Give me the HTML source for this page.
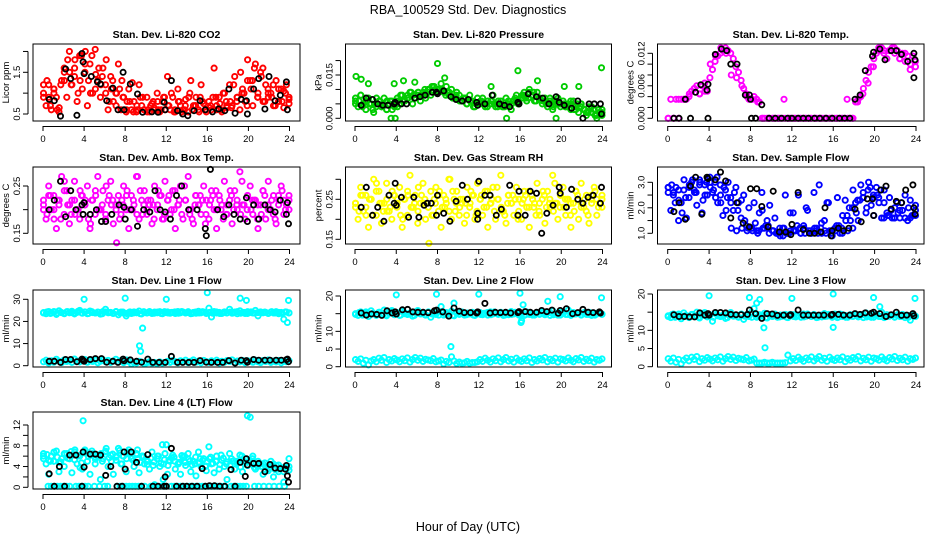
<!DOCTYPE html>
<html><head><meta charset="utf-8"><style>
body{margin:0;background:#fff;}
svg{display:block;font-family:"Liberation Sans",Arial,sans-serif;}
</style></head><body>
<svg id="c" width="936" height="540" viewBox="0 0 936 540" xmlns="http://www.w3.org/2000/svg">
<rect width="936" height="540" fill="#fff"/>
<text x="468" y="14" text-anchor="middle" font-size="12.5">RBA_100529  Std. Dev. Diagnostics</text>
<text x="468" y="531" text-anchor="middle" font-size="12.5">Hour of Day (UTC)</text>
</svg>
<script>
// ---------- data ----------
const xTicks=[0,4,8,12,16,20,24];
const co2Vals=[1.0,0.7,1.2,0.6,1.1,0.9,0.55,1.3,1.6,0.9,2.0,1.2,1.4,0.8,1.9,1.1,1.5,0.7,1.7,1.0,2.05,1.3,0.9,1.6,1.2,0.6,1.4,0.8,1.0,1.7,0.6,0.9,0.55,1.1,0.6,0.8,0.55,1.2,0.7,0.6,0.9,0.55,0.75,0.6,1.0,0.55,0.8,0.6,1.4,0.6,0.9,0.55,1.1,0.7,0.6,0.85,0.55,1.3,0.7,0.9,0.6,1.2,0.75,0.55,0.8,0.6,1.6,0.7,0.9,0.55,1.0,0.65,1.2,0.7,1.4,0.9,0.6,1.1,0.8,1.8,1.3,0.7,1.7,1.0,1.5,0.8,1.2,0.9,1.0,0.7,1.3,0.8,1.1,0.65,1.2,0.9];
const co2Vals2=[1.2,0.9,1.1,0.65,1.3,1.5,1.8,1.3,2.0,1.0,1.45,1.2,1.8,1.1,1.0,1.3,0.8,1.25,0.6,0.9,0.6,0.8,0.6,0.9,0.7,0.55,0.8,0.6,1.0,0.7,0.9,0.6,0.7,0.9,0.6,0.8,0.65,0.8,1.0,0.7,1.3,0.9,1.6,1.1,1.2,0.8,1.05,0.85];
const co2Vals3=[0.9,1.3,0.7,1.0,0.6,1.2,1.5,1.8,1.2,1.6,1.0,1.9,1.7,1.3,1.9,1.1,1.6,1.4,1.0,0.8,1.3,0.7,1.1,0.9,0.6,0.8,0.55,0.7,0.9,0.6,0.55,0.7,0.65,0.8,0.6,0.9,0.7,1.0,0.6,0.8,0.55,0.7,0.9,0.6,0.7,0.55,0.8,0.6,0.65,0.9,0.6,0.75,1.0,0.7,0.8,1.2,0.9,1.5,1.0,1.3,1.1,1.6,0.9,1.4,0.8,1.0,0.9,0.7,1.1,0.8,1.0,0.75];
const co2BlackT=[0.6,1.1,1.7,2.2,2.7,3.3,3.8,3.9,4.0,4.7,5.3,5.6,6.2,6.8,7.3,7.8,7.9,8.5,9.2,9.7,10.6,11.2,11.8,11.9,12.5,13.1,13.6,14.1,14.7,15.3,15.8,16.5,17.1,17.7,18.1,18.7,19.3,19.8,19.9,20.5,21.0,21.6,22.0,22.6,23.1,23.7,23.8];
const co2BlackV=[0.85,0.82,0.45,1.58,1.35,0.47,1.95,1.75,1.47,1.4,1.27,1.22,0.82,1.12,0.6,1.5,0.6,1.22,0.98,0.54,0.55,0.54,0.78,0.6,1.3,0.58,0.5,0.46,0.58,0.82,0.6,0.55,0.62,0.58,1.1,0.52,0.85,0.82,0.5,1.1,1.35,0.62,1.4,0.82,0.95,1.27,0.6];

const presVals=[.006,.004,.008,.005,.003,.007,.005,.002,.005,.006,.004,.007,.003,.005,.006,.004,.006,.005,.008,.006,.007,.009,.005,.007,.008,.006,.009,.007,.010,.008,.011,.009,.010,.012,.009,.011,.008,.010,.007,.009,.008,.006,.007,.005,.008,.006,.004,.007,.005,.007,.004,.006,.005,.008,.004,.006,.006,.004,.007,.005,.003,.006,.008,.005,.007,.009,.006,.010,.008,.006,.009,.007,.005,.007,.004,.006,.003,.005,.007,.004,.006,.004,.005,.003,.006,.004,.002,.005,.003,.001,.004,.002,.003,.000,.002,.001];
const presVals2=[.007,.008,.006,.005,.007,.004,.006,.003,.004,.006,.007,.008,.009,.008,.010,.011,.010,.009,.008,.007,.006,.007,.006,.005,.006,.005,.006,.005,.004,.005,.006,.005,.008,.007,.009,.007,.006,.005,.006,.005,.004,.005,.003,.005,.002,.004,.001,.003];
const presVals3=[.005,.006,.004,.007,.005,.003,.004,.006,.005,.003,.006,.005,.007,.008,.006,.008,.009,.007,.009,.008,.010,.009,.011,.010,.009,.010,.008,.009,.007,.008,.006,.007,.005,.006,.004,.005,.006,.005,.004,.006,.005,.004,.005,.004,.006,.005,.007,.006,.008,.007,.009,.008,.006,.007,.006,.005,.007,.004,.006,.005,.005,.004,.006,.003,.005,.004,.003,.002,.004,.001,.003,.002];
const presOutT=[0.1,0.6,1.3,3.5,3.9,3.8,4.7,5.8,8.0,8.7,13.2,14.7,15.8,17.7,19.5,20.3,21.7,23.9];
const presOutV=[.0145,.0135,.012,0,0,.012,.013,.0125,.019,.014,.011,0,.0165,.013,0,.011,.011,.0175];
const presBlackT=[0.6,1.1,1.7,2.2,2.7,3.2,3.8,3.9,4.5,5.0,5.8,6.3,6.8,7.5,7.9,8.0,8.6,9.3,9.8,10.4,11.0,11.8,11.9,12.6,13.3,14.0,14.5,15.0,15.8,15.9,16.8,17.6,18.2,18.8,19.5,19.8,20.3,21.0,21.6,22.1,22.7,23.2,23.8,23.9];
const presBlackV=[.0045,.007,.0065,.005,.0045,.0045,.005,.0055,.005,.005,.007,.0075,.008,.009,.009,.0085,.0095,.0075,.0065,.006,.0065,.0055,.0045,.005,.008,.005,.0045,.004,.0055,.005,.0085,.0075,.007,.005,.0075,.0055,.0045,.0035,.006,0,.005,.005,.005,.0015];

const tempVals=[0,.0035,0,.0035,0,.0035,.0035,.0035,.004,.005,.0055,.006,.0045,.006,.0065,.005,.0075,.009,.0105,.0115,.012,.0125,.013,.0125,.012,.011,.0095,.0085,.007,.0055,.0045,.0035,.0035,.004,.0035,.003,0,0,0,0,0,0,0,0,0,0,0,0,0,0,0,0,0,0,0,0,0,0,0,0,0,0,0,0,0,0,0,0,0,0,0,0,.003,.0035,.004,.0055,.007,.0085,.0095,.011,.012,.0125,.013,.0125,.011,.0125,.013,.012,.0125,.011,.012,.0105,.0115,.01,.0115,.0095];
const tempVals2=[0,0,.0035,.0035,.0045,.0055,.0045,.005,.01,.0115,.013,.012,.008,.0075,.006,.004,.0035,.003,0,0,0,0,.0035,0,0,0,0,0,0,0,0,0,0,0,.0035,0,.003,.0045,.0065,.0095,.013,.012,.0125,.013,.011,.012,.009,.0105];
const tempBlackT=[0.6,1.1,1.7,2.2,2.7,3.2,3.8,3.9,3.9,4.6,5.2,5.7,6.1,6.7,7.5,7.9,8.0,8.1,8.5,9.1,9.8,10.4,11,11.6,12,12.6,13.1,13.6,14.2,14.7,15.3,15.9,16.6,17.1,17.6,18.1,18.6,19.1,19.8,19.9,20.5,21.0,21.6,22.1,22.6,23.2,23.8,23.8,23.9];
const tempBlackV=[0,0,.0035,0,.0048,.0062,.0052,.0063,0,.0118,.0128,.0125,.01,.01,.0043,.0043,.0035,0,0,.0025,0,0,0,0,0,0,0,0,0,0,0,0,0,0,0,.0035,.0043,.0088,.0115,.0122,.0128,.0108,.0125,.0125,.0118,.0105,.012,.0075,.0108];

const ambVals=[.22,.18,.25,.20,.23,.16,.21,.27,.19,.24,.17,.22,.26,.20,.18,.23,.21,.25,.16,.22,.19,.27,.20,.24,.18,.22,.26,.17,.21,.23,.19,.25,.20,.16,.23,.21,.27,.18,.22,.24,.19,.21,.17,.25,.20,.23,.18,.26,.22,.19,.24,.16,.21,.25,.18,.22,.27,.20,.17,.23,.21,.19,.25,.22,.18,.24,.20,.16,.23,.21,.26,.19,.22,.17,.24,.20,.28,.21,.18,.23,.25,.19,.22,.16,.21,.24,.18,.26,.20,.23,.17,.22,.25,.19,.21,.23];
const ambVals2=[.20,.23,.18,.22,.26,.21,.19,.24,.22,.17,.23,.20,.25,.21,.13,.22,.24,.20,.27,.19,.22,.21,.24,.18,.23,.20,.22,.25,.19,.21,.23,.17,.22,.24,.20,.19,.23,.21,.26,.20,.22,.18,.24,.21,.19,.23,.22,.20];
const ambVals3=[.21,.19,.23,.20,.22,.18,.24,.21,.19,.22,.20,.23,.21,.18,.22,.24,.20,.21,.19,.23,.22,.20,.18,.21,.23,.20,.22,.19,.24,.21,.20,.22,.18,.21,.23,.19,.22,.20,.24,.21,.19,.22,.20,.18,.23,.21,.22,.19,.21,.23,.20,.22,.18,.21,.24,.20,.22,.19,.21,.23,.20,.22,.21,.19,.23,.20,.22,.18,.21,.24,.20,.22];
const ambBlackT=[0.6,1.1,1.7,2.2,2.7,3.2,3.8,3.9,4.0,4.6,5.2,5.7,6.1,6.7,7.4,7.9,8.0,8.6,9.2,9.8,10.4,10.9,11.4,11.9,12.4,13.0,13.5,14.2,15.0,15.8,15.9,16.3,17.0,17.6,18.1,18.6,19.2,19.8,19.9,20.5,21.0,21.6,22.1,22.6,23.1,23.7,23.8,23.9];
const ambBlackV=[.20,.22,.26,.185,.24,.20,.21,.19,.215,.19,.20,.175,.175,.19,.21,.205,.18,.20,.165,.20,.195,.24,.20,.195,.18,.23,.25,.20,.20,.16,.145,.285,.20,.185,.21,.19,.18,.225,.175,.21,.18,.21,.20,.195,.22,.19,.215,.17];

const rhVals=[.24,.20,.28,.22,.26,.18,.25,.30,.21,.27,.19,.24,.29,.22,.20,.26,.23,.28,.18,.25,.21,.31,.23,.26,.19,.24,.29,.20,.23,.27,.21,.28,.22,.18,.26,.24,.30,.20,.25,.27,.21,.24,.19,.28,.23,.26,.20,.29,.25,.21,.27,.18,.24,.28,.20,.25,.31,.22,.19,.26,.24,.21,.28,.25,.20,.27,.23,.18,.26,.24,.29,.21,.25,.19,.27,.23,.31,.24,.20,.26,.28,.21,.25,.18,.24,.27,.20,.29,.23,.26,.19,.25,.28,.21,.24,.26];
const rhVals2=[.23,.26,.21,.25,.29,.24,.22,.27,.25,.20,.26,.23,.28,.24,.14,.25,.27,.23,.30,.22,.25,.24,.27,.21,.26,.23,.25,.28,.22,.24,.26,.20,.25,.27,.23,.22,.26,.24,.29,.23,.25,.21,.27,.24,.22,.26,.25,.23];
const rhVals3=[.24,.22,.26,.23,.25,.21,.27,.24,.22,.25,.23,.26,.24,.21,.25,.27,.23,.24,.22,.26,.25,.23,.21,.24,.26,.23,.25,.22,.27,.24,.23,.25,.21,.24,.26,.22,.25,.23,.27,.24,.22,.25,.23,.21,.26,.24,.25,.22,.24,.26,.23,.25,.21,.24,.27,.23,.25,.22,.24,.26,.23,.25,.24,.22,.26,.23,.25,.21,.24,.27,.23,.25];
const rhBlackT=[0.6,1.1,1.7,2.2,2.8,3.3,3.8,3.9,4.0,4.5,5.2,5.7,6.2,6.7,7.0,7.4,7.9,8.0,8.6,9.2,9.8,10.4,10.9,11.9,11.9,12.0,12.6,13.1,13.7,14.2,15.0,15.8,15.9,16.5,17.0,17.6,18.1,18.6,19.2,19.8,19.9,20.5,21.0,21.6,22.1,22.6,23.1,23.8,23.9];
const rhBlackV=[.23,.28,.21,.23,.195,.26,.24,.29,.235,.255,.205,.255,.205,.235,.24,.24,.21,.26,.215,.195,.245,.285,.25,.215,.20,.295,.26,.26,.21,.225,.285,.21,.27,.21,.27,.265,.165,.215,.235,.28,.265,.23,.275,.25,.24,.255,.26,.24,.28];

const flowVals=[2.8,1.9,2.5,2.8,1.5,2.2,2.7,1.6,2.4,3.0,2.7,2.1,3.1,1.8,2.9,2.5,3.2,2.6,3.0,2.2,2.9,1.7,2.7,3.0,2.4,1.9,2.8,2.2,1.6,2.5,1.3,2.0,1.2,2.2,1.1,1.8,2.6,1.2,1.5,2.1,1.1,1.6,1.0,0.9,1.2,2.5,1.0,1.1,1.8,1.1,2.5,1.0,1.3,2.0,1.1,1.0,2.6,1.2,2.9,1.0,1.5,2.2,1.1,0.9,1.2,2.4,1.0,1.7,2.3,1.1,1.5,2.7,2.2,1.5,2.9,2.4,1.8,3.0,2.1,1.7,2.8,2.2,1.6,2.7,1.8,2.4,1.6,2.0,2.2,1.6,1.9,2.5,1.5,2.3,1.7,2.1];
const flowVals2=[2.8,2.6,2.3,3.1,2.9,2.6,3.0,2.5,2.8,2.4,2.2,1.9,1.2,1.1,1.2,1.1,1.1,1.0,1.2,1.3,1.1,1.0,1.2,1.0,1.1,1.2,1.0,1.1,1.1,1.2,1.0,1.1,1.3,1.2,1.7,2.0,2.3,2.4,2.7,2.5,2.4,1.6,1.7,1.6,1.9,1.6,1.6,1.7];
const flowVals3=[2.6,2.9,2.2,2.7,1.8,2.4,2.8,3.1,2.6,2.9,2.3,3.0,3.0,2.7,3.2,2.5,2.8,2.4,2.2,2.6,1.9,2.3,1.5,1.2,1.2,1.4,1.1,1.9,1.3,1.0,1.1,1.0,1.2,0.9,1.0,1.8,1.1,1.3,1.0,1.2,1.9,1.0,1.2,1.0,1.4,1.1,2.2,1.0,1.1,1.3,1.0,1.5,2.0,1.2,1.8,2.3,2.6,2.0,2.8,2.4,2.5,2.7,2.2,1.7,1.9,1.6,1.8,2.2,1.6,2.0,1.7,1.9];
const flowBlackT=[0.6,1.1,1.7,2.2,2.7,3.3,3.8,3.9,4.6,5.1,5.6,6.1,6.7,7.3,7.9,8.0,8.6,9.1,9.7,10.2,10.8,11.4,11.9,12.0,12.6,13.1,13.7,14.2,14.8,15.2,15.8,15.9,16.5,17.0,17.5,18.1,18.7,19.3,19.8,19.9,20.6,21.1,21.6,22.1,22.6,23.0,23.7,23.8,23.9];
const flowBlackV=[1.85,2.2,1.55,2.85,3.2,1.75,3.2,3.15,3.1,3.4,3.05,1.6,2.2,1.4,1.25,2.75,2.75,2.05,1.25,2.65,1.05,1.05,0.95,1.35,2.6,1.15,1.0,1.0,1.05,2.0,0.9,1.1,1.2,1.1,1.2,1.95,1.45,2.35,2.35,1.7,2.7,2.85,1.95,2.25,2.2,2.7,2.9,2.0,1.75];

const l1Band=[24,23.5,24.5,23.8,24.2,23.2,24.8,24,23.6,24.4,23.9,24.6,23.4,24.1,25,23.7,24.3,23.5,24.7,24,23.8,24.2,23.3,24.5,25.5,23.9,24.1,23.6,24.4,23,24.2,23.8,22.5,24,23.6,24.3,23.9,24.7,23.4,24.1,23.8,24.5,23.6,24.2,23.9,24.4,23.5,24,24.3,23.7,24.1,23.6,24.5,23.9,24.2,23.8,24.4,23.5,24.1,23.7,24.6,23.9,24.2,23.6,26,22,24.5,23.8,24.1,23.6,24.3,23.9,25.5,23.7,24.2,23.5,24.8,24,23.6,24.4,24.1,23.8,25,22.5,24.3,23.9,24.1,23.6,24.2,23.8,24.4,23.5,24.1,21,24.2,23.8];
const l1Band2=[23.8,24.3,23.6,24.5,23.9,24.1,23.5,24.4,24.0,23.7,24.6,23.9,24.2,23.6,24.4,23.8,24.1,23.5,24.3,24.0,23.7,24.5,23.9,24.2,23.6,24.3,23.8,24.1,23.5,24.4,23.9,24.0,23.7,24.2,23.6,24.4,23.8,24.1,24.3,23.7,24.5,23.9,24.0,23.6,24.2,23.8,24.4,23.9,24.1,23.7,24.3,23.6,24.0,23.8,24.2,23.9,24.4,23.7,24.1,23.6,24.3,23.8,24.0,23.9,24.2,23.7,24.4,23.8,24.1,23.6,24.3,23.9];
const l1Low=[1.8,2.5,1.2,2.2,1.6,2.9,2.0,1.4,2.6,1.9,2.3,1.5,3.0,2.1,1.7,2.4,2.8,1.6,2.2,1.9,2.5,1.3,2.0,2.7,1.8,2.4,1.5,2.1,2.9,1.7,2.3,1.4,2.6,1.9,0.8,1.5,1.2,2.0,1.6,0.9,1.3,1.8,1.1,1.5,1.0,1.7,1.2,1.4,2.0,1.5,2.4,1.8,1.3,2.2,1.7,2.5,1.4,2.0,2.6,1.6,2.1,1.3,2.4,1.8,1.5,2.2,1.7,2.5,1.2,2.0,1.6,2.3,1.9,2.6,1.4,2.1,1.7,2.4,1.3,2.2,2.0,1.6,2.5,1.8,1.4,2.3,1.9,2.6,1.5,2.1,1.7,2.4,1.3,2.0,1.8,2.2];
const l1OutT=[4.0,8.0,9.4,9.5,9.7,12.0,16.0,19.2,19.8,23.8,23.9];
const l1OutV=[30,30.5,9,6.5,17,30,33,30.5,29.5,19.5,29.5];
const l1BlackT=[0.6,1.1,1.7,2.2,2.7,3.3,3.8,3.9,4.0,4.6,5.1,5.7,6.2,6.8,7.3,7.8,7.9,8.5,9.1,9.6,10.2,10.7,11.3,11.9,12.5,13.1,13.6,14.2,14.7,15.3,15.9,16.4,17.0,17.5,18.1,18.7,19.3,19.8,19.9,20.5,21.0,21.6,22.1,22.7,23.2,23.7,23.8,23.9];
const l1BlackV=[2,2,1.5,2.8,2.8,1.8,3,2.5,2,2.8,3.2,3.2,1.6,2,1.5,3,2.2,2.6,2,1.6,3,1.5,1.5,1.5,4.2,1.5,1.5,1.5,1.5,2.3,1.6,1.5,1.5,1.5,2.3,1.2,2.5,2.3,1.6,2.8,2.5,2.5,2.5,2.5,2.5,2.7,3,1.8];

const l2Band=[15,14.5,15.5,14.8,15.2,14.2,15.8,15,14.6,15.4,14.9,16,14.4,15.1,15.9,14.7,15.3,14.5,15.7,15,14.8,15.2,14.3,15.5,15.9,14.9,15.1,14.6,15.4,14,15.2,14.8,15.5,17,14.6,15.3,14.9,15.7,14.4,15.1,14.8,15.5,14.6,15.2,14.9,15.4,14.5,15,15.3,14.7,15.1,14.6,15.5,14.9,15.2,14.8,15.4,14.5,15.1,14.7,15.6,14.9,15.2,14.6,13,14.5,15.5,14.8,15.1,14.6,15.3,14.9,15.5,14.7,15.2,14.5,15.8,15,14.6,15.4,15.1,14.8,16,14.5,15.3,14.9,15.1,14.6,15.2,14.8,15.4,14.5,15.1,14.9,15.2,14.8];
const l2Band2=[14.8,15.3,14.6,15.5,14.9,15.1,14.5,15.4,15.0,14.7,15.6,14.9,15.2,14.6,15.4,14.8,15.1,14.5,15.3,15.0,14.7,15.5,14.9,15.2,14.6,15.3,14.8,15.1,14.5,15.4,14.9,15.0,14.7,15.2,14.6,15.4,14.8,15.1,15.3,14.7,15.5,14.9,15.0,14.6,15.2,14.8,15.4,14.9,15.1,14.7,15.3,14.6,15.0,14.8,15.2,14.9,15.4,14.7,15.1,14.6,15.3,14.8,15.0,14.9,15.2,14.7,15.4,14.8,15.1,14.6,15.3,14.9];
const l2Low=[2.0,1.5,2.2,1.0,1.8,0.5,1.6,2.0,1.4,2.4,1.8,2.6,1.2,2.0,1.6,2.3,1.9,1.4,2.2,1.7,2.5,1.3,2.0,2.6,1.8,2.4,1.5,2.1,1.9,1.7,2.3,1.4,1.6,1.9,0.8,1.5,1.2,2.8,1.6,0.9,1.3,1.0,1.1,1.5,1.0,1.2,1.2,1.4,2.0,1.5,2.4,1.8,1.3,2.2,1.7,2.5,1.4,2.0,2.6,1.6,2.1,1.3,2.4,1.8,1.5,2.2,1.7,2.5,1.2,2.0,1.6,2.3,1.9,2.6,1.4,2.1,1.7,2.4,1.3,2.2,2.0,1.6,2.5,1.8,1.4,2.3,1.9,2.6,1.5,2.1,1.7,2.4,1.3,2.0,1.8,2.2];
const l2OutT=[4.0,7.9,9.3,9.6,12.0,16.0,16.1,16.3,18.7,19.9,23.9];
const l2OutV=[20.3,20.5,5.7,18,20.5,20.8,12.5,17.5,18.5,19.8,19.5];
const l2BlackT=[0.6,1.1,1.6,2.1,2.6,3.1,3.6,3.9,4.0,4.6,5.1,5.6,6.1,6.6,7.1,7.7,7.9,8.5,9.1,9.6,10.1,10.6,11.2,11.8,11.9,12.6,13.1,13.6,14.1,14.6,15.1,15.8,15.9,16.5,17.0,17.6,18.1,18.6,19.1,19.7,19.9,20.5,21.1,21.6,22.1,22.6,23.1,23.7,23.8];
const l2BlackV=[15.2,14.6,14.9,14.8,14.5,15.8,15.2,15.5,14.9,16.1,16.2,15.5,15.4,15.4,15.3,15.8,16,15.5,14.3,16.6,15.7,15.3,15.3,15.2,15.5,17.9,15.2,15.4,15.3,15.4,15.2,15.3,15.6,15.6,15.4,15.4,15.9,15.6,16,15.1,15.9,16.4,15.0,15.3,16.2,15.4,15.3,15.5,15.2];

const l3Band=[14,13.5,14.5,13.8,14.2,13.2,14.8,14,13.6,14.4,13.9,15,13.4,14.1,14.9,13.7,14.3,12.5,14.7,14,13.8,14.2,13.3,14.5,14.9,13.9,14.1,13.6,14.4,13,14.2,13.8,15,16,13.6,14.3,13.9,14.7,13.4,14.1,13.8,14.5,13.6,14.2,13.9,14.4,13.5,14,14.3,13.7,14.1,13.6,14.5,13.9,14.2,13.8,14.4,13.5,14.1,13.7,14.6,13.9,14.2,13.6,14.5,13.5,14.5,13.8,14.1,13.6,14.3,13.9,14.5,13.7,14.2,13.5,14.8,14,13.6,14.4,14.1,13.8,15,13.5,14.3,13.9,14.1,13.6,14.2,13.8,14.4,13.5,14.1,12.8,14.2,13.8];
const l3Band2=[13.8,14.3,13.6,14.5,13.9,14.1,13.5,14.4,14.0,13.7,14.6,13.9,14.2,13.6,14.4,13.8,14.1,13.5,14.3,14.0,13.7,14.5,13.9,14.2,13.6,14.3,13.8,14.1,13.5,14.4,13.9,14.0,13.7,14.2,13.6,14.4,13.8,14.1,14.3,13.7,14.5,13.9,14.0,13.6,14.2,13.8,14.4,13.9,14.1,13.7,14.3,13.6,14.0,13.8,14.2,13.9,14.4,13.7,14.1,13.6,14.3,13.8,14.0,13.9,14.2,13.7,14.4,13.8,14.1,13.6,14.3,13.9];
const l3Low=[2.2,1.5,2.4,1.2,2.0,0.8,1.8,2.4,1.6,2.6,2.0,2.8,1.4,2.2,1.8,2.5,2.1,1.6,2.4,1.9,2.7,1.5,2.2,2.8,2.0,2.6,1.7,2.3,2.1,1.9,2.5,1.6,1.8,2.1,1.0,1.0,1.0,1.2,1.0,1.0,1.2,1.0,1.0,1.0,1.0,1.1,3.2,1.6,2.2,1.7,2.6,2.0,1.5,2.4,1.9,2.7,1.6,2.2,2.8,1.8,2.3,1.5,2.6,2.0,1.7,2.4,1.9,2.7,1.4,2.2,1.8,2.5,2.1,2.8,1.6,2.3,1.9,2.6,1.5,2.4,2.2,1.8,2.7,2.0,1.6,2.5,2.1,2.8,1.7,2.3,1.9,2.6,1.5,2.2,2.0,2.4];
const l3OutT=[4.0,7.9,8.6,8.9,9.3,9.4,12.0,16.0,16.0,19.9,20.5,23.9];
const l3OutV=[19.5,19,17.5,18.5,10.7,5.2,18.8,20,10.8,19,16.5,18.8];
const l3BlackT=[0.6,1.1,1.6,2.1,2.6,3.1,3.6,3.9,4.0,4.6,5.1,5.6,6.1,6.6,7.1,7.7,7.9,8.5,9.1,9.6,10.1,10.6,11.2,11.8,11.9,12.6,13.1,13.6,14.1,14.6,15.1,15.8,15.9,16.5,17.0,17.6,18.1,18.6,19.1,19.7,19.9,20.5,21.1,21.6,22.1,22.6,23.1,23.7,23.8];
const l3BlackV=[14.3,13.8,13.8,13.7,13.7,14.8,14.2,14.6,14.2,14.9,14.9,14.8,14.4,14.3,14.3,14.4,15.6,14.6,13.3,14.6,14.5,14.1,14.2,14.1,14.3,15.6,14.2,14.2,14.2,14.2,14.2,14.2,14.4,14.4,14.2,14.2,14.6,14.4,14.8,14.7,15,14.6,13.8,14.3,15.0,14.1,14.2,14.6,14];

const l4Vals=[6.5,4.5,2.5,6.0,5.0,7.0,3.0,5.5,4.0,6.5,5.5,2.8,6.8,4.5,6.0,3.5,7.2,5.0,2.5,6.5,4.5,6.0,1.5,5.5,7.0,4.0,6.2,2.5,5.8,7.5,4.5,6.0,3.0,7.2,5.5,4.0,6.5,2.8,6.0,4.5,5.0,3.5,6.8,0.5,5.5,4.0,8.2,6.5,2.5,5.0,6.2,3.5,4.5,2.5,5.8,4.2,6.5,3.0,5.0,2.2,6.8,4.0,5.5,3.2,7.8,4.5,2.8,6.0,3.5,5.2,4.0,1.5,6.5,5.0,3.5,4.8,6.2,3.0,5.5,4.2,13.5,6.0,3.5,5.0,4.5,2.5,4.0,3.2,5.0,2.0,4.2,3.0,3.8,1.0,3.5,5.5];
const l4Vals2=[6.0,5.2,6.8,4.8,6.5,5.5,7.2,3.8,7.0,6.2,5.8,6.5,7.5,5.0,6.0,4.5,6.8,5.5,7.2,6.0,5.0,4.2,6.0,4.5,5.2,5.8,4.8,6.0,5.0,4.5,5.5,4.0,5.8,5.0,6.2,4.5,5.5,5.0,6.0,4.8,5.5,4.0,4.5,3.8,4.5,3.5,3.0,4.0];
const l4Vals3=[5.5,6.3,5.0,6.7,5.8,4.9,6.4,5.6,6.9,5.3,6.1,4.7,6.6,5.9,7.0,5.4,6.2,5.0,6.8,5.7,6.4,5.2,7.1,6.0,5.5,6.6,5.1,6.3,4.8,5.9,4.4,5.6,4.9,6.0,4.6,5.3,4.2,5.7,5.0,4.5,6.1,4.8,5.4,4.3,5.8,4.7,5.2,4.1,5.5,4.6,5.0,4.4,5.6,4.9,4.3,5.1,4.6,3.9,5.0,4.2,4.8,3.8,4.4,4.0,4.7,3.6,4.1,3.4,4.3,3.7,3.9,3.3];
const l4ZeroT=[0.5,0.8,1.1,1.4,1.7,2.0,2.3,2.6,3.2,3.5,3.8,4.1,4.4,5.0,5.5,6.0,6.3,7.2,7.5,7.8,8.1,8.4,8.7,9.0,9.3,9.6,9.9,10.5,10.8,11.1,11.4,11.7,12.0,12.5,12.8,13.1,13.4,13.7,14.0,14.3,14.6,14.9,15.2,15.5,15.8,16.1,16.4,16.7,17.0,17.3,17.6,18.3,18.6,18.9,19.2,19.5,19.8,20.6,21.0,21.5,22.0,22.5,23.0,23.5];
const l4ZeroV=[0.2,0.2,0.2,0.2,0.2,0.2,0.2,0.2,0.2,0.2,0.2,0.2,0.2,0.2,0.2,0.2,0.2,0.2,0.2,0.2,0.2,0.2,0.2,0.2,0.2,0.2,0.2,0.2,0.2,0.2,0.2,0.2,0.2,0.2,0.2,0.2,0.2,0.2,0.2,0.2,0.2,0.2,0.2,0.2,0.2,0.2,0.2,0.2,0.2,0.2,0.2,0.2,0.2,0.2,0.2,0.2,0.2,0.2,0.2,0.2,0.2,0.2,0.2,0.2];
const l4OutT=[3.9,19.9,12.0,11.7];
const l4OutV=[12.8,13.8,8.2,1.5];
const l4BlackT=[0.6,1.1,1.6,2.1,2.6,3.2,3.8,3.9,4.0,4.6,5.1,5.6,6.1,6.6,7.2,7.7,7.9,8.0,8.6,9.1,9.6,10.2,10.7,11.2,11.8,11.9,12.0,12.5,13.0,13.6,14.0,14.5,15.0,15.5,15.8,16.2,16.7,17.2,17.7,18.3,18.7,19.2,19.7,19.8,19.9,20.5,21.0,21.6,22.1,22.6,23.1,23.6,23.7,23.8,23.9];
const l4BlackV=[2.6,0.2,4.0,0.2,6.2,6.2,0.2,6.8,3.9,6.4,6.4,6.2,2.3,4.0,0.2,0.2,6.8,3.5,6.8,4.8,0.2,6.3,0.2,0.2,0.2,2.0,0.2,7.5,0.2,0.2,0.2,0.2,0.2,3.6,0.2,0.3,0.3,0.2,0.2,3.4,0.2,4.8,2.1,5.5,4.3,4.6,4.6,3.0,4.4,3.7,3.6,3.5,4.2,2.2,1.0];

// ---------- layout ----------
const colX=[[33,300,43,289.5],[345.5,611.5,355,602.5],[657.5,924,667.7,916]];
const rowY=[44,167,290,412];
const BOXH=77;

const panels=[
 {name:'co2',title:'Stan. Dev. Li-820 CO2',col:0,row:0,ylab:'Licor ppm',ref:[0.5,114,1.5,72.3],ticks:[0.5,1,1.5,2],labels:['0.5','','1.5',''],
  series:[[null,co2Vals,'#ff0000'],[null,co2Vals2,'#ff0000'],[null,co2Vals3,'#ff0000'],[co2BlackT,co2BlackV,'#000']]},
 {name:'pressure',title:'Stan. Dev. Li-820 Pressure',col:1,row:0,ylab:'kPa',ref:[0,118.3,0.015,75],ticks:[0,0.005,0.01,0.015,0.02],labels:['0.000','','','0.015',''],
  series:[[null,presVals,'#00cc00'],[null,presVals2,'#00cc00'],[null,presVals3,'#00cc00'],[presOutT,presOutV,'#00cc00'],[presBlackT,presBlackV,'#000']]},
 {name:'temp',title:'Stan. Dev. Li-820 Temp.',col:2,row:0,ylab:'degrees C',ref:[0,118.3,0.012,53.3],ticks:[0,0.002,0.004,0.006,0.008,0.01,0.012],labels:['0.000','','','0.006','','','0.012'],
  series:[[null,tempVals,'#ff00ff'],[null,tempVals2,'#ff00ff'],[tempBlackT,tempBlackV,'#000']]},
 {name:'amb-box-temp',title:'Stan. Dev. Amb. Box Temp.',col:0,row:1,ylab:'degrees C',ref:[0.15,233.3,0.25,186],ticks:[0.15,0.2,0.25],labels:['0.15','','0.25'],
  series:[[null,ambVals,'#ff00ff'],[null,ambVals2,'#ff00ff'],[null,ambVals3,'#ff00ff'],[ambBlackT,ambBlackV,'#000']]},
 {name:'gas-stream-rh',title:'Stan. Dev. Gas Stream RH',col:1,row:1,ylab:'percent',ref:[0.15,239.3,0.25,199.3],ticks:[0.15,0.2,0.25,0.3],labels:['0.15','','0.25',''],
  series:[[null,rhVals,'#ffff00'],[null,rhVals2,'#ffff00'],[null,rhVals3,'#ffff00'],[rhBlackT,rhBlackV,'#000']]},
 {name:'sample-flow',title:'Stan. Dev. Sample Flow',col:2,row:1,ylab:'ml/min',ref:[1,233.3,3,182.3],ticks:[1,1.5,2,2.5,3],labels:['1.0','','2.0','','3.0'],
  series:[[null,flowVals,'#0000ff'],[null,flowVals2,'#0000ff'],[null,flowVals3,'#0000ff'],[flowBlackT,flowBlackV,'#000']]},
 {name:'line1-flow',title:'Stan. Dev. Line 1 Flow',col:0,row:2,ylab:'ml/min',ref:[0,365.7,30,299.3],ticks:[0,10,20,30],labels:['0','10','20','30'],
  series:[[null,l1Band,'#00ffff'],[null,l1Band2,'#00ffff'],[null,l1Low,'#00ffff'],[l1OutT,l1OutV,'#00ffff'],[l1BlackT,l1BlackV,'#000']]},
 {name:'line2-flow',title:'Stan. Dev. Line 2 Flow',col:1,row:2,ylab:'ml/min',ref:[0,366.7,20,296],ticks:[0,5,10,15,20],labels:['0','5','10','','20'],
  series:[[null,l2Band,'#00ffff'],[null,l2Band2,'#00ffff'],[null,l2Low,'#00ffff'],[l2OutT,l2OutV,'#00ffff'],[l2BlackT,l2BlackV,'#000']]},
 {name:'line3-flow',title:'Stan. Dev. Line 3 Flow',col:2,row:2,ylab:'ml/min',ref:[0,366.7,20,294],ticks:[0,5,10,15,20],labels:['0','5','10','','20'],
  series:[[null,l3Band,'#00ffff'],[null,l3Band2,'#00ffff'],[null,l3Low,'#00ffff'],[l3OutT,l3OutV,'#00ffff'],[l3BlackT,l3BlackV,'#000']]},
 {name:'line4-flow',title:'Stan. Dev. Line 4 (LT) Flow',col:0,row:3,ylab:'ml/min',ref:[0,487.3,12,425],ticks:[0,2,4,6,8,10,12],labels:['0','','4','','8','','12'],
  series:[[null,l4Vals,'#00ffff'],[null,l4Vals2,'#00ffff'],[null,l4Vals3,'#00ffff'],[l4ZeroT,l4ZeroV,'#00ffff'],[l4OutT,l4OutV,'#00ffff'],[l4BlackT,l4BlackV,'#000']]}
];

const NS='http://www.w3.org/2000/svg';
const svg=document.getElementById('c');
function mk(tag,attrs,parent){const e=document.createElementNS(NS,tag);for(const k in attrs)e.setAttribute(k,attrs[k]);(parent||svg).appendChild(e);return e;}

panels.forEach(p=>{
  const [bl,br,x0,x24]=colX[p.col];
  const bt=rowY[p.row], bb=bt+BOXH;
  const xs=h=>x0+(x24-x0)*h/24;
  const [v1,py1,v2,py2]=p.ref;
  const ys=v=>py1+(v-v1)*(py2-py1)/(v2-v1);
  const g=mk('g',{});
  
  
  const clipId='clip-'+p.name;
  const cp=mk('clipPath',{id:clipId},g);
  mk('rect',{x:bl-3,y:bt-3,width:br-bl+6,height:BOXH+6},cp);
  const pts=mk('g',{'clip-path':'url(#'+clipId+')'},g);
  
  
  p.series.forEach(s=>{
    const [ts,vs,col]=s;
    const n=vs.length;
    const black=col==='#000';
    for(let i=0;i<n;i++){
      if(ts && i>=ts.length) break;
      const t=ts?ts[i]:0.05+i*23.9/(n-1);
      const c=mk('circle',{cx:xs(t).toFixed(1),cy:ys(vs[i]).toFixed(1),r:2.6,fill:'none',stroke:col,'stroke-width':black?1.8:1.9},pts);
      
      
    }
  });
  const box=mk('rect',{x:bl,y:bt,width:br-bl,height:BOXH,fill:'none',stroke:'#000','stroke-width':1},g);
  
  
  const title=mk('text',{x:(bl+br)/2,y:bt-6,'text-anchor':'middle','font-size':10.5,'font-weight':'bold'},g);
  title.textContent=p.title;
  
  
  mk('line',{x1:xs(0),x2:xs(24),y1:bb+0.5+5,y2:bb+0.5+5,stroke:'#000'},g);
  xTicks.forEach(h=>{
    mk('line',{x1:xs(h),x2:xs(h),y1:bb+5,y2:bb+10,stroke:'#000'},g);
    const tl=mk('text',{x:xs(h),y:bb+21,'text-anchor':'middle','font-size':9.5},g);
    tl.textContent=h;
    
    
  });
  const ya=bl-5;
  mk('line',{x1:ya,x2:ya,y1:ys(p.ticks[0]),y2:ys(p.ticks[p.ticks.length-1]),stroke:'#000'},g);
  p.ticks.forEach((v,i)=>{
    const y=ys(v);
    mk('line',{x1:ya-5,x2:ya,y1:y,y2:y,stroke:'#000'},g);
    if(p.labels[i]){
      const tl=mk('text',{x:0,y:0,'text-anchor':'middle','font-size':9.5,transform:`translate(${ya-8},${y}) rotate(-90)`},g);
      tl.textContent=p.labels[i];
      
      
    }
  });
  const yl=mk('text',{x:0,y:0,'text-anchor':'middle','font-size':9.5,transform:`translate(${bl-24},${bt+BOXH/2}) rotate(-90)`},g);
  yl.textContent=p.ylab;
  
  
});
</script>
</body></html>
